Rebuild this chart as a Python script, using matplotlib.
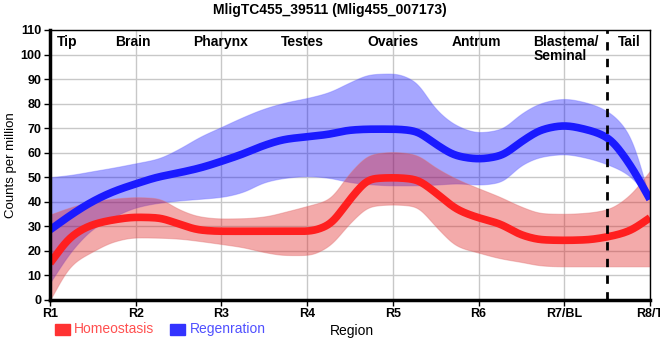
import numpy as np
import matplotlib
matplotlib.use("Agg")
import matplotlib.pyplot as plt

plt.rcParams['font.family'] = ['Liberation Sans', 'DejaVu Sans']

# region positions (R1..R8) sampled at quarter steps
pos = [1 + 0.25 * i for i in range(29)]
tick_labels = ['R1', 'R2', 'R3', 'R4', 'R5', 'R6', 'R7/BL', 'R8/T']
region_names = ['Tip', 'Brain', 'Pharynx', 'Testes', 'Ovaries', 'Antrum', 'Blastema/\nSeminal', 'Tail']
region_x = [1.2, 1.97, 2.99, 3.95, 5.0, 5.98, 6.64, 7.76]

# regeneration
regen_mean = [28.6, 34.8, 40.2, 44.3, 47.3, 50, 51.8, 53.8, 56.5, 59.5, 63, 65.5, 66.5, 67.5, 69.2,
              69.6, 69.6, 68.9, 63.5, 58.7, 57.5, 58.7, 64.5, 69.5, 71, 69.5, 66.3, 56, 41]
regen_hi = [50, 51, 52.5, 54, 55.7, 57.5, 61.5, 66.5, 70.5, 74.5, 78, 80.5, 82.3, 84.6, 88.7,
            92, 92.3, 89.3, 77.8, 71, 68.3, 69.5, 76, 80.5, 82, 80.5, 77, 68, 41]
regen_lo = [7, 20, 29, 34, 37.7, 39.5, 40.5, 41.2, 42, 44, 48, 49.8, 50.5, 49.8, 48,
            47.1, 46.7, 46.7, 47, 47.5, 47, 48, 55, 58.5, 59.4, 58, 55.3, 51, 41]

# homeostasis
homeo_mean = [15, 25.9, 30.7, 32.7, 33.7, 33.5, 31, 28.5, 28, 28, 28, 28, 28, 30.5, 41,
              49.4, 49.8, 49.2, 43.7, 36.9, 33.5, 31, 26.5, 24.5, 24.3, 24.5, 25.7, 28, 33.5]
homeo_hi = [34.8, 37.9, 40.2, 41.3, 41.9, 41.5, 37, 34, 33.2, 33.3, 34, 36, 38.3, 41, 51.9,
            59.4, 60.3, 59.4, 53.9, 49.2, 45.5, 42, 38, 35.3, 35.1, 35.5, 36.9, 42.3, 52.6]
homeo_lo = [0, 14.3, 19.8, 23.9, 25.5, 25.4, 25, 24, 22.8, 21.5, 19.5, 18.3, 18.3, 21.9, 31.4,
            38.3, 38.9, 38.3, 30, 21.9, 19.3, 17, 15.5, 14, 13.7, 13.7, 13.7, 13.7, 13.7]


# monotone cubic (pchip style) so the curves stay smooth without overshoot
def pchip(x, y, xs):
    x = np.asarray(x, float)
    y = np.asarray(y, float)
    h = np.diff(x)
    d = np.diff(y) / h
    m = np.zeros_like(y)
    for i in range(1, len(y) - 1):
        if d[i - 1] * d[i] > 0:
            w1 = 2 * h[i] + h[i - 1]
            w2 = h[i] + 2 * h[i - 1]
            m[i] = (w1 + w2) / (w1 / d[i - 1] + w2 / d[i])
    m[0] = d[0]
    m[-1] = d[-1]
    idx = np.clip(np.searchsorted(x, xs) - 1, 0, len(x) - 2)
    t = (xs - x[idx]) / h[idx]
    h00 = 2 * t**3 - 3 * t**2 + 1
    h10 = t**3 - 2 * t**2 + t
    h01 = -2 * t**3 + 3 * t**2
    h11 = t**3 - t**2
    return h00 * y[idx] + h10 * h[idx] * m[idx] + h01 * y[idx + 1] + h11 * h[idx] * m[idx + 1]


xs = np.linspace(1, 8, 800)


# pchip then a light gaussian blur to take the corners off
def smooth(y):
    v = pchip(pos, y, xs)
    sig = 0.06 / (xs[1] - xs[0])
    n = int(4 * sig)
    k = np.exp(-0.5 * (np.arange(-n, n + 1) / sig) ** 2)
    k /= k.sum()
    left = 2 * v[0] - v[1:n + 1][::-1]
    right = 2 * v[-1] - v[-n - 1:-1][::-1]
    return np.convolve(np.concatenate([left, v, right]), k, mode='valid')


fig = plt.figure(figsize=(6.6, 3.6), dpi=100)
ax = fig.add_axes([0.0758, 0.1667, 0.909, 0.75])

ax.fill_between(xs, smooth(regen_lo), smooth(regen_hi),
                color='#0000ff', alpha=0.35, linewidth=0.8, edgecolor='#6a6aff')
ax.plot(xs, smooth(regen_mean), color='#1a1aff', lw=5.5, solid_capstyle='butt')
ax.fill_between(xs, smooth(homeo_lo), smooth(homeo_hi),
                color='#e02020', alpha=0.38, linewidth=0.8, edgecolor='#e07070')
ax.plot(xs, smooth(homeo_mean), color='#ff1f1f', lw=5.5, solid_capstyle='butt')

ax.axvline(7.5, color='black', lw=2, ls=(0, (3, 3)), zorder=5)

ax.set_xlim(1, 8)
ax.set_ylim(0, 110)
ax.set_yticks(range(0, 111, 10))
ax.set_xticks(range(1, 9))
ax.set_xticklabels(tick_labels, fontweight='bold', fontsize=9)
for lab in ax.get_yticklabels():
    lab.set_fontsize(9)
    lab.set_fontweight('bold')
ax.grid(color='#c8c8c8', lw=1)
ax.set_axisbelow(True)
ax.tick_params(length=4, width=1, pad=2)

for side in ['left', 'bottom']:
    ax.spines[side].set_linewidth(2.5)
for side in ['top', 'right']:
    ax.spines[side].set_linewidth(1)

for name, x in zip(region_names, region_x):
    if '\n' in name:
        ax.text(x, 108, name, ha='left', va='top', fontsize=10, fontweight='bold', linespacing=1.0)
    else:
        ax.text(x, 108, name, ha='center', va='top', fontsize=10, fontweight='bold')

ax.set_ylabel('Counts per million', fontsize=9.5, labelpad=3)
fig.text(0.5, 0.972, 'MligTC455_39511 (Mlig455_007173)', ha='center', va='center',
         fontsize=10, fontweight='bold')

# legend drawn by hand under the axis
fig.patches.append(plt.Rectangle((0.083, 0.07), 0.023, 0.03, color='#ff3333', transform=fig.transFigure))
fig.text(0.112, 0.085, 'Homeostasis', color='#ff5050', fontsize=10, va='center')
fig.patches.append(plt.Rectangle((0.258, 0.07), 0.023, 0.03, color='#3333ff', transform=fig.transFigure))
fig.text(0.287, 0.085, 'Regenration', color='#5050ff', fontsize=10, va='center')
fig.text(0.5, 0.08, 'Region', color='black', fontsize=10, va='center')

fig.savefig('out.png', dpi=100)
